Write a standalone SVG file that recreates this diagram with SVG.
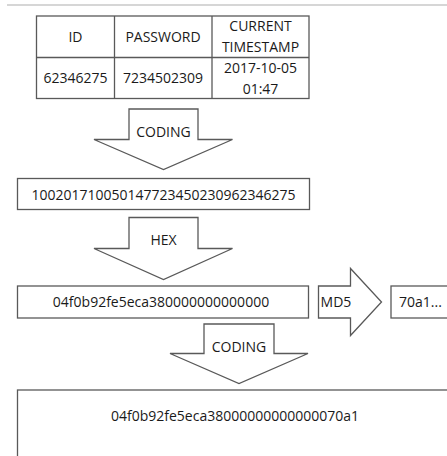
<svg xmlns="http://www.w3.org/2000/svg" width="447" height="456" viewBox="0 0 447 456">
<style>
.ln{fill:#ffffff;stroke:#595959;stroke-width:1.3}
.t{font-family:"Open Sans","Liberation Sans",sans-serif;font-size:14px;fill:#1a1a1a;text-anchor:middle}
</style>
<rect x="0" y="0" width="447" height="456" fill="#ffffff"/>
<line x1="7" y1="5" x2="447" y2="5" stroke="#c8c8c8" stroke-width="1.5"/>
<g id="table">
<rect class="ln" x="36.5" y="16" width="272.5" height="82.5"/>
<line class="ln" x1="114.5" y1="16" x2="114.5" y2="98.5"/>
<line class="ln" x1="212" y1="16" x2="212" y2="98.5"/>
<line class="ln" x1="36.5" y1="57.5" x2="309" y2="57.5"/>
<text class="t" x="75.5" y="42">ID</text>
<text class="t" x="163" y="42">PASSWORD</text>
<text class="t" x="260.5" y="31">CURRENT</text>
<text class="t" x="260.5" y="52">TIMESTAMP</text>
<text class="t" x="75.5" y="83">62346275</text>
<text class="t" x="163" y="83">7234502309</text>
<text class="t" x="260.5" y="72.5">2017-10-05</text>
<text class="t" x="260.5" y="94">01:47</text>
</g>
<g id="connectors">
<g id="arrow-coding-1">
<polygon class="ln" points="129,109 198,109 198,139.5 232.5,139.5 163.5,169.5 94,139.5 129,139.5"/>
<text class="t" x="163.5" y="136.5">CODING</text>
</g>
<g id="arrow-hex">
<polygon class="ln" points="129,217.5 198,217.5 198,248.5 232.5,248.5 163.5,279.5 94,248.5 129,248.5"/>
<text class="t" x="163.5" y="244.5">HEX</text>
</g>
<g id="arrow-md5">
<polygon class="ln" points="318.5,286 350.5,286 350.5,268.5 381.5,302 350.5,335.5 350.5,318 318.5,318"/>
<text class="t" x="336" y="307">MD5</text>
</g>
<g id="arrow-coding-2">
<polygon class="ln" points="204,324 274,324 274,353.5 308,353.5 239,383.5 170,353.5 204,353.5"/>
<text class="t" x="239" y="351.5">CODING</text>
</g>
</g>
<g id="box-decimal">
<rect class="ln" x="17.5" y="178.5" width="292" height="31"/>
<text class="t" x="163.5" y="199.5">100201710050147723450230962346275</text>
</g>
<g id="box-hex">
<rect class="ln" x="17.5" y="286" width="291" height="32"/>
<text class="t" x="161" y="306.5">04f0b92fe5eca380000000000000</text>
</g>
<g id="box-md5">
<rect class="ln" x="391" y="286" width="70" height="32"/>
<text class="t" x="399" y="307" style="text-anchor:start">70a1...</text>
</g>
<g id="box-result">
<rect class="ln" x="17.5" y="390" width="445" height="80"/>
<text class="t" x="235" y="421">04f0b92fe5eca38000000000000070a1</text>
</g>
</svg>
